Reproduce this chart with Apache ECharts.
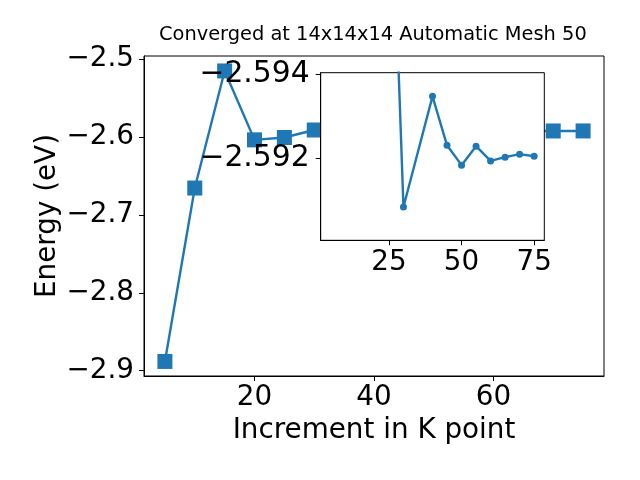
<!DOCTYPE html>
<html>
<head>
<meta charset="utf-8">
<script src="https://cdn.jsdelivr.net/npm/echarts@6/dist/echarts.min.js"></script>
<style>html,body{margin:0;padding:0;background:#fff;}#chart{width:640px;height:480px;}</style>
</head>
<body>
<div id="chart"></div>
<script>
const kPoints = [5, 10, 15, 20, 25, 30, 40, 45, 50, 55, 60, 65, 70, 75];
const energies = [-2.8881, -2.6654, -2.5150, -2.6035, -2.6005, -2.59085, -2.59347, -2.59231, -2.59184, -2.59229, -2.59194, -2.59203, -2.59210, -2.59205];
const insetStartIndex = 4; // inset plots from K = 25 onward
const mainXTicks = [20, 40, 60];
const mainYTicks = [-2.9, -2.8, -2.7, -2.6, -2.5];
const insetXTicks = [25, 50, 75];
const insetYTicks = [-2.594, -2.592];
const titleText = 'Converged at 14x14x14 Automatic Mesh 50';
const xName = 'Increment in K point';
const yName = 'Energy (eV)';

const FONT = 'DejaVu Sans';
const BLUE = '#1f77b4';
const pairs = kPoints.map((k, i) => [k, energies[i]]);
const insetPairs = pairs.slice(insetStartIndex);
const minus = v => String(v).replace('-', '\u2212');

const chart = echarts.init(document.getElementById('chart'), null, {renderer: 'canvas'});
chart.setOption({
  animation: false,
  backgroundColor: '#fff',
  textStyle: {fontFamily: FONT},
  title: {
    text: titleText, left: 159, top: 25, padding: 0,
    textStyle: {fontFamily: FONT, fontSize: 19.4, fontWeight: 'normal', color: '#000'}
  },
  grid: [
    {left: 144, top: 56, width: 460, height: 320, show: true, borderColor: '#000', borderWidth: 1, backgroundColor: '#fff', z: 0},
    {left: 320.7, top: 72.7, width: 223.6, height: 167.6, show: true, borderColor: '#000', borderWidth: 1, backgroundColor: '#fff', z: 10}
  ],
  xAxis: [
    {
      type: 'value', gridIndex: 0, min: 1.5, max: 78.5,
      name: xName, nameLocation: 'middle', nameGap: 41, nameMoveOverlap: false,
      nameTextStyle: {fontFamily: FONT, fontSize: 27.8, color: '#000'},
      axisLine: {show: true, onZero: false, lineStyle: {color: '#000', width: 1}},
      axisTick: {show: true, inside: false, length: 5, lineStyle: {color: '#000', width: 1}, customValues: mainXTicks},
      axisLabel: {fontFamily: FONT, fontSize: 27.8, color: '#000', margin: 8, customValues: mainXTicks},
      splitLine: {show: false}
    },
    {
      type: 'value', gridIndex: 1, min: 1.5, max: 78.5, z: 11,
      axisLine: {show: true, onZero: false, lineStyle: {color: '#000', width: 1}},
      axisTick: {show: true, inside: false, length: 5, lineStyle: {color: '#000', width: 1}, customValues: insetXTicks},
      axisLabel: {fontFamily: FONT, fontSize: 27.8, color: '#000', margin: 8, customValues: insetXTicks},
      splitLine: {show: false}
    }
  ],
  yAxis: [
    {
      type: 'value', gridIndex: 0, min: -2.9068, max: -2.4958,
      name: yName, nameLocation: 'middle', nameGap: 82, nameMoveOverlap: false,
      nameTextStyle: {fontFamily: FONT, fontSize: 27.8, color: '#000'},
      axisLine: {show: true, onZero: false, lineStyle: {color: '#000', width: 1}},
      axisTick: {show: true, inside: false, length: 5, lineStyle: {color: '#000', width: 1}, customValues: mainYTicks},
      axisLabel: {fontFamily: FONT, fontSize: 27.8, color: '#000', margin: 10, customValues: mainYTicks,
        formatter: v => minus(v.toFixed(1))},
      splitLine: {show: false}
    },
    {
      type: 'value', gridIndex: 1, min: -2.59403, max: -2.59006, inverse: true, z: 11,
      axisLine: {show: true, onZero: false, lineStyle: {color: '#000', width: 1}},
      axisTick: {show: true, inside: false, length: 5, lineStyle: {color: '#000', width: 1}, customValues: insetYTicks},
      axisLabel: {fontFamily: FONT, fontSize: 29.8, color: '#000', margin: 11, customValues: insetYTicks,
        formatter: v => minus(v.toFixed(3))},
      splitLine: {show: false}
    }
  ],
  series: [
    {
      type: 'line', xAxisIndex: 0, yAxisIndex: 0, data: pairs, z: 2,
      symbol: 'rect', symbolSize: 15,
      lineStyle: {color: BLUE, width: 2.4},
      itemStyle: {color: BLUE}
    },
    {
      type: 'line', xAxisIndex: 1, yAxisIndex: 1, data: insetPairs, z: 12, clip: true,
      symbol: 'circle', symbolSize: 7,
      lineStyle: {color: BLUE, width: 2.4},
      itemStyle: {color: BLUE}
    }
  ]
});
</script>
</body>
</html>
